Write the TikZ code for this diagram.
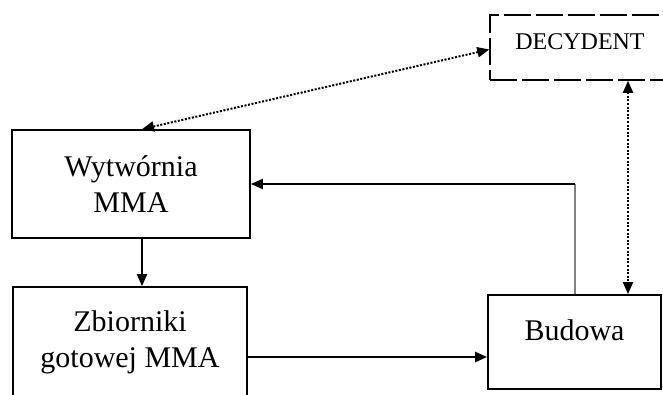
\documentclass[tikz,border=0pt]{standalone}
\usepackage{fontspec}
\setmainfont{Liberation Serif}
\usetikzlibrary{arrows.meta}
\begin{document}
\begin{tikzpicture}[x=1pt, y=-1pt,
        box/.style={draw, line width=1.7pt, inner sep=0pt, align=center,
                    font=\fontsize{30}{36}\selectfont},
        dashbox/.style={box, line width=1.5pt, dash pattern=on 27pt off 5pt,
                    font=\fontsize{24}{28}\selectfont},
        flow/.style={line width=2.2pt, -{Triangle[length=12pt,width=10pt]}},
        dots/.style={line width=2pt, dash pattern=on 2pt off 1.6pt,
                    {Triangle[length=12pt,width=10pt]}-{Triangle[length=12pt,width=10pt]}}]
        \useasboundingbox (0,0) rectangle (663,394);                      %
        \node [dashbox, minimum width=180pt, minimum height=65pt,
               text depth=12pt]              (dec) at (580,47.5) {DECYDENT};      %top right
        \node [box, minimum width=238pt, minimum height=108pt]
                                             (wyt) at (131,184)  {Wytwórnia\\MMA};
        \node [box, minimum width=234pt, minimum height=111pt]
                                             (zbi) at (130,342.5) {Zbiorniki\\gotowej MMA};
        \node [box, minimum width=173pt, minimum height=94pt,
               text depth=24pt]              (bud) at (574.5,342) {Budowa};
        \coordinate (corner) at (bud.north |- wyt.east);                  %
        \draw [flow]  ([xshift=11pt]wyt.south) -- ([xshift=11pt]wyt.south |- zbi.north);
        \draw [flow]  ([yshift=-14.5pt]zbi.east) -- ([yshift=-14.5pt]zbi.east -| bud.west);
        \draw [gray, line width=2pt] (bud.north) -- (corner);             %feedback
        \draw [flow]  (corner) -- (wyt.east);                             %
        \draw [dots]  ([yshift=-2pt]dec.west) -- ([xshift=11pt]wyt.north);%
        \draw [dots]  ([xshift=48pt]dec.south) -- ([xshift=48pt]dec.south |- bud.north);
\end{tikzpicture}
\end{document}
